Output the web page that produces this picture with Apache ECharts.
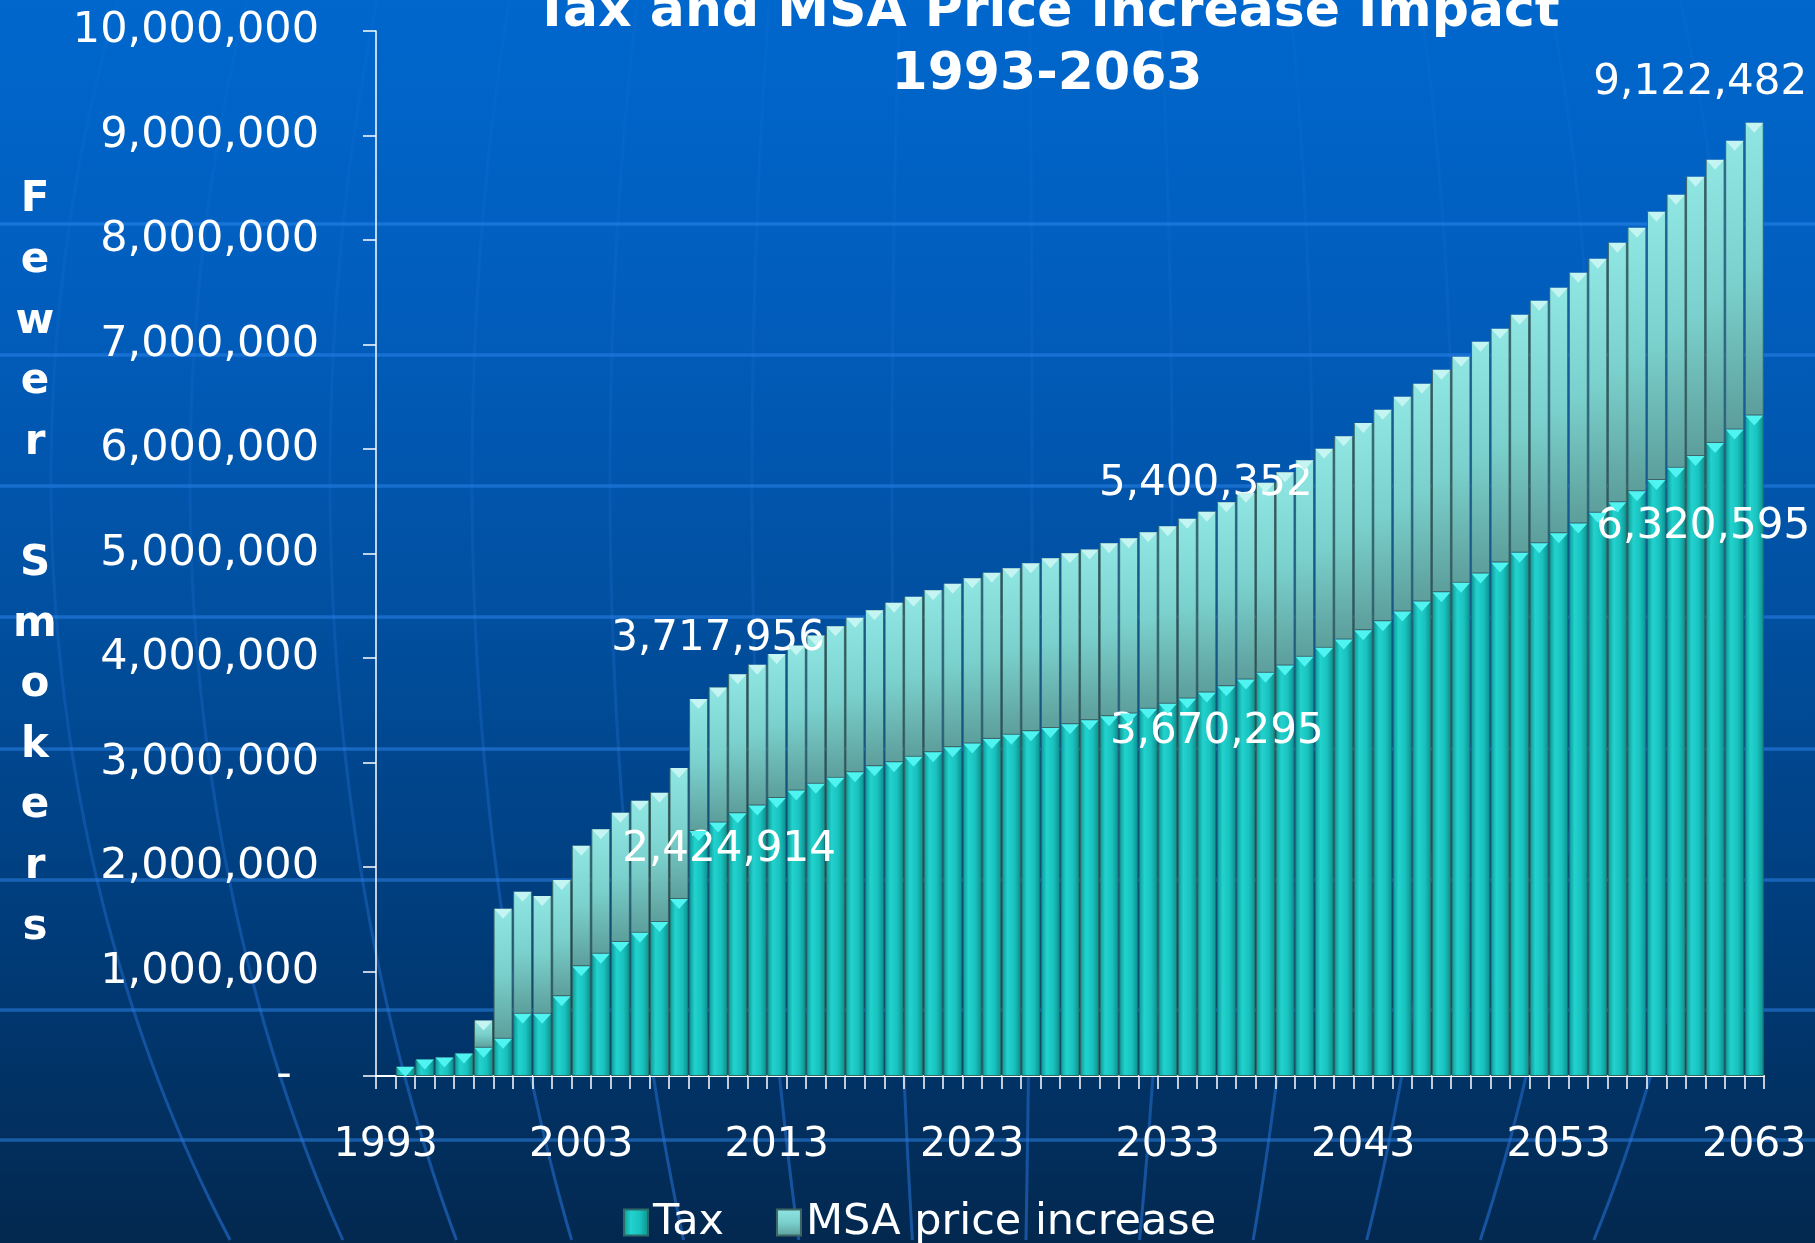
<!DOCTYPE html>
<html>
<head>
<meta charset="utf-8">
<title>Tax and MSA Price Increase Impact 1993-2063</title>
<script src="https://cdn.jsdelivr.net/npm/echarts@6/dist/echarts.min.js"></script>
<style>
  html, body { margin: 0; padding: 0; background: #02315f; }
  #chart { width: 1815px; height: 1243px; }
</style>
</head>
<body>
<div id="chart"></div>
<script>
// Years on the category axis
const years = [
  '1993','1994','1995','1996','1997','1998','1999','2000','2001','2002',
  '2003','2004','2005','2006','2007','2008','2009','2010','2011','2012',
  '2013','2014','2015','2016','2017','2018','2019','2020','2021','2022',
  '2023','2024','2025','2026','2027','2028','2029','2030','2031','2032',
  '2033','2034','2035','2036','2037','2038','2039','2040','2041','2042',
  '2043','2044','2045','2046','2047','2048','2049','2050','2051','2052',
  '2053','2054','2055','2056','2057','2058','2059','2060','2061','2062',
  '2063'
];

// Fewer smokers attributable to the tax increase
const taxFewer = [
  0, 88000, 158000, 177000, 215000, 270000, 356000, 595000, 595000, 764000,
  1051000, 1170000, 1283000, 1370000, 1473000, 1693000, 2345000, 2424914, 2514000, 2589000,
  2660000, 2731000, 2796000, 2853000, 2907000, 2965000, 3003000, 3054000, 3099000, 3147000,
  3182000, 3226000, 3265000, 3300000, 3329000, 3367000, 3405000, 3443000, 3469000, 3514000,
  3562000, 3612000, 3670295, 3730000, 3794000, 3858000, 3928000, 4011000, 4097000, 4177000,
  4266000, 4352000, 4445000, 4541000, 4630000, 4719000, 4809000, 4915000, 5008000, 5097000,
  5193000, 5288000, 5390000, 5490000, 5595000, 5703000, 5820000, 5932000, 6058000, 6186000,
  6320595
];

// Additional fewer smokers from the MSA price increase
const msaFewer = [
  0, 0, 0, 0, 0, 261000, 1244000, 1167000, 1128000, 1111000,
  1153000, 1192000, 1237000, 1263000, 1237000, 1254000, 1263000, 1293042, 1330000, 1346000,
  1378000, 1388000, 1419000, 1452000, 1477000, 1493000, 1525000, 1531000, 1550000, 1563000,
  1582000, 1589000, 1595000, 1607000, 1626000, 1636000, 1633000, 1656000, 1678000, 1690000,
  1699000, 1720000, 1730057, 1761000, 1787000, 1819000, 1850000, 1882000, 1905000, 1944000,
  1984000, 2023000, 2055000, 2083000, 2128000, 2163000, 2217000, 2235000, 2276000, 2321000,
  2350000, 2398000, 2430000, 2483000, 2522000, 2567000, 2612000, 2673000, 2709000, 2763000,
  2801887
];

// Value axis ticks
const yTickValues = [0, 1000000, 2000000, 3000000, 4000000, 5000000, 6000000, 7000000, 8000000, 9000000, 10000000];

// Years whose values are written on the chart
const labelledYears = ['2010', '2035', '2063'];

// Label nudges (px): [dx, dy] from the centre of the top edge of the segment
const labelNudge = {
  '2010': { tax: [11, 27],  total: [0, -48] },
  '2035': { tax: [10, 40],  total: [-1, -28] },
  '2063': { tax: [-51, 112], total: [-54, -40] }
};

const FONT = 'DejaVu Sans';
const fmt = n => String(Math.round(n)).replace(/\B(?=(\d{3})+(?!\d))/g, ',');

function valueLabel(text, nudge) {
  return {
    show: true,
    position: ['50%', nudge[1]],
    offset: [nudge[0], 0],
    align: 'center',
    verticalAlign: 'middle',
    formatter: text,
    color: '#ffffff',
    fontFamily: FONT,
    fontSize: 42
  };
}

const taxData = years.map((y, i) => {
  const v = taxFewer[i] > 0 ? taxFewer[i] : '-';
  if (labelledYears.includes(y)) {
    return { value: v, label: valueLabel(fmt(taxFewer[i]), labelNudge[y].tax) };
  }
  return v;
});

const msaData = years.map((y, i) => {
  const v = msaFewer[i] > 0 ? msaFewer[i] : '-';
  if (labelledYears.includes(y)) {
    return { value: v, label: valueLabel(fmt(taxFewer[i] + msaFewer[i]), labelNudge[y].total) };
  }
  return v;
});

// Top bevel of each segment
const taxCaps = years.map((y, i) => taxFewer[i] > 0 ? taxFewer[i] : '-');
const msaCaps = years.map((y, i) => msaFewer[i] > 0 ? taxFewer[i] + msaFewer[i] : '-');

// Backdrop: faint parallels and globe meridians
const W = 1815, H = 1243;
const backdrop = [];
[224, 355, 486, 617, 749, 880, 1010, 1140].forEach(yy => {
  backdrop.push({
    type: 'line', silent: true, z: 0,
    shape: { x1: 0, y1: yy, x2: W, y2: yy },
    style: { stroke: 'rgba(45,135,240,0.5)', lineWidth: 3.5 }
  });
});
const meridianStroke = {
  type: 'linear', x: 0, y: 0, x2: 0, y2: H, global: true,
  colorStops: [
    { offset: 0, color: 'rgba(40,120,225,0.10)' },
    { offset: 0.45, color: 'rgba(40,120,225,0.18)' },
    { offset: 0.75, color: 'rgba(40,120,225,0.38)' },
    { offset: 1, color: 'rgba(40,120,225,0.55)' }
  ]
};
const gcx = 1000, gcy = 480, gRy = 1300;
[51, 190, 330, 472, 610, 752, 892, 1032, 1172, 1312, 1452, 1592, 1732].forEach(ex => {
  const pts = [];
  for (let yy = 0; yy <= H; yy += 20) {
    const k = Math.sqrt(Math.max(0, 1 - Math.pow((yy - gcy) / gRy, 2)));
    pts.push([gcx + (ex - gcx) * k, yy]);
  }
  backdrop.push({
    type: 'polyline', silent: true, z: 0,
    shape: { points: pts },
    style: { stroke: meridianStroke, lineWidth: 3, fill: null }
  });
});

// Title
backdrop.push({
  type: 'text', z: 5,
  style: { text: 'Tax and MSA Price Increase Impact', x: 1047, y: 12, align: 'center', verticalAlign: 'middle',
           fill: '#ffffff', font: 'bold 52px "' + FONT + '"' }
});
backdrop.push({
  type: 'text', z: 5,
  style: { text: '1993-2063', x: 1047, y: 75, align: 'center', verticalAlign: 'middle',
           fill: '#ffffff', font: 'bold 52px "' + FONT + '"' }
});

// Value axis title, one letter per line
backdrop.push({
  type: 'text', z: 5,
  style: { text: 'F\ne\nw\ne\nr\n\nS\nm\no\nk\ne\nr\ns', x: 35, y: 564, align: 'center', verticalAlign: 'middle',
           fill: '#ffffff', font: 'bold 42px "' + FONT + '"', lineHeight: 60.6 }
});

const taxFace = {
  type: 'linear', x: 0, y: 0, x2: 1, y2: 0,
  colorStops: [
    { offset: 0, color: '#0c9491' },
    { offset: 0.3, color: '#22d2ce' },
    { offset: 0.65, color: '#19c3bf' },
    { offset: 1, color: '#0d8e8b' }
  ]
};
const msaFace = {
  type: 'linear', x: 0, y: 0, x2: 0, y2: 1,
  colorStops: [
    { offset: 0, color: '#8fe6e2' },
    { offset: 0.5, color: '#7ad0cc' },
    { offset: 1, color: '#5c9e9b' }
  ]
};

const chart = echarts.init(document.getElementById('chart'), null, { renderer: 'canvas' });

chart.setOption({
  backgroundColor: {
    type: 'linear', x: 0, y: 0, x2: 0, y2: 1,
    colorStops: [
      { offset: 0, color: '#0067cd' },
      { offset: 0.25, color: '#015dbc' },
      { offset: 0.5, color: '#014f9f' },
      { offset: 0.75, color: '#003c7a' },
      { offset: 1, color: '#03284f' }
    ]
  },
  animation: false,
  textStyle: { fontFamily: FONT, color: '#ffffff' },
  graphic: { elements: backdrop },
  grid: { left: 376, right: 51, top: 31, bottom: 167, containLabel: false },
  legend: {
    data: ['Tax', 'MSA price increase'],
    left: 618,
    top: 1196,
    itemWidth: 24,
    itemHeight: 26,
    itemGap: 52,
    icon: 'rect',
    textStyle: { color: '#ffffff', fontSize: 43, fontFamily: FONT, padding: [0, 0, 0, 0] }
  },
  xAxis: {
    type: 'category',
    data: years,
    boundaryGap: true,
    axisLine: { lineStyle: { color: '#ffffff', width: 2 } },
    axisTick: { show: true, interval: 0, length: 13, lineStyle: { color: '#ffffff', width: 1.5 } },
    axisLabel: { interval: 9, margin: 49, color: '#ffffff', fontSize: 41, fontFamily: FONT },
    splitLine: { show: false }
  },
  yAxis: {
    type: 'value',
    min: yTickValues[0],
    max: yTickValues[yTickValues.length - 1],
    interval: yTickValues[1] - yTickValues[0],
    axisLine: { show: true, lineStyle: { color: '#ffffff', width: 1.5 } },
    axisTick: { show: true, length: 13, lineStyle: { color: '#ffffff', width: 1.5 } },
    axisLabel: {
      margin: 57, color: '#ffffff', fontSize: 43, fontFamily: FONT,
      formatter: v => (v === 0 ? '-  ' : fmt(v))
    },
    splitLine: { show: false }
  },
  series: [
    {
      name: 'Tax', type: 'bar', stack: 'fewer', barWidth: 19, z: 2,
      itemStyle: { color: taxFace, borderColor: '#2c6b69', borderWidth: 1 },
      data: taxData
    },
    {
      name: 'MSA price increase', type: 'bar', stack: 'fewer', barWidth: 19, z: 2,
      itemStyle: { color: msaFace, borderColor: '#3d6665', borderWidth: 1 },
      data: msaData
    },
    {
      name: 'taxBevel', type: 'pictorialBar', symbol: 'triangle', symbolRotate: 180,
      symbolPosition: 'end', symbolSize: [18, 10], z: 3, silent: true,
      itemStyle: { color: '#4ff4f1' }, data: taxCaps
    },
    {
      name: 'msaBevel', type: 'pictorialBar', symbol: 'triangle', symbolRotate: 180,
      symbolPosition: 'end', symbolSize: [18, 10], z: 3, silent: true,
      itemStyle: { color: '#c4f5f2' }, data: msaCaps
    }
  ]
});
</script>
</body>
</html>
